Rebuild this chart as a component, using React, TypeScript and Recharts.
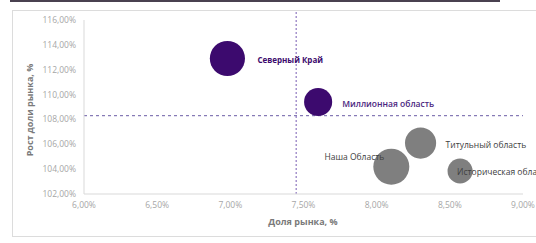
import React from 'react';
import { ScatterChart, Scatter, XAxis, YAxis, ZAxis, ReferenceLine, Cell } from 'recharts';

const regions = ['Северный Край', 'Миллионная область', 'Титульный область', 'Наша Область', 'Историческая область'];
const marketShare = [6.98, 7.6, 8.3, 8.1, 8.57];
const shareGrowth = [112.9, 109.4, 106.1, 104.2, 103.85];
const marketSize = [30.5, 19.5, 24, 32, 15.5];
const groups = ['focus', 'focus', 'other', 'other', 'other'];
const xTicks = [6, 6.5, 7, 7.5, 8, 8.5, 9];
const yTicks = [102, 104, 106, 108, 110, 112, 114, 116];
const avgShare = 7.45;
const avgGrowth = 108.3;

const data = regions.map((name, i) => ({
  name,
  x: marketShare[i],
  y: shareGrowth[i],
  z: marketSize[i],
  group: groups[i],
}));

const colors: Record<string, string> = { focus: '#3c0a6e', other: '#7f7f7f' };

const labelStyle: Record<string, { dx: number; dy: number; anchor: 'start' | 'end'; color: string; weight: number; size: number }> = {
  'Северный Край': { dx: 30, dy: 1, anchor: 'start', color: '#3c0a6e', weight: 700, size: 8 },
  'Миллионная область': { dx: 24, dy: 1, anchor: 'start', color: '#4b2680', weight: 600, size: 8.5 },
  'Титульный область': { dx: 25, dy: 1, anchor: 'start', color: '#404040', weight: 400, size: 8.5 },
  'Наша Область': { dx: -7, dy: -10, anchor: 'end', color: '#404040', weight: 400, size: 8.5 },
  'Историческая область': { dx: -3, dy: 0, anchor: 'start', color: '#404040', weight: 400, size: 8.5 },
};

const fmt = (v: number) => v.toFixed(2).replace('.', ',') + '%';

const FONT = '"Open Sans", sans-serif';

const LabelShape = (props: any) => {
  const { cx, cy, payload } = props;
  const s = labelStyle[payload.name];
  return (
    <text
      x={cx + s.dx}
      y={cy + s.dy}
      textAnchor={s.anchor}
      dominantBaseline="central"
      fontSize={s.size}
      fontFamily={FONT}
      fontWeight={s.weight}
      fill={s.color}
    >
      {payload.name}
    </text>
  );
};

export default function App() {
  return (
    <div style={{ position: 'absolute', left: 0, top: 0, width: 536, height: 243, background: '#fff', overflow: 'hidden', fontFamily: FONT }}>
      <div style={{ position: 'absolute', left: 10, top: 0, width: 490, height: 2, background: '#4a4150' }} />
      <div style={{ position: 'absolute', left: 12, top: 10, width: 540, height: 227, border: '1px solid #dcdcdc', boxSizing: 'border-box' }} />
      <div style={{ position: 'absolute', left: 0, top: 0 }}>
        <ScatterChart width={536} height={243} margin={{ top: 20, right: 13, bottom: 19, left: 24 }}>
          <XAxis
            type="number"
            dataKey="x"
            domain={[6, 9]}
            ticks={xTicks}
            tickFormatter={fmt}
            axisLine={{ stroke: '#d9d9d9' }}
            tickLine={false}
            tick={{ fontSize: 8.5, fill: '#a6a6a6', fontFamily: FONT }}
            height={30}
            interval={0}
          />
          <YAxis
            type="number"
            dataKey="y"
            domain={[102, 116]}
            ticks={yTicks}
            tickFormatter={fmt}
            axisLine={{ stroke: '#d9d9d9' }}
            tickLine={false}
            tick={{ fontSize: 8.5, fill: '#a6a6a6', fontFamily: FONT }}
            width={60}
            interval={0}
          />
          <ZAxis type="number" dataKey="z" domain={[0, 32]} range={[0, 1018]} />
          <ReferenceLine y={avgGrowth} stroke="#6b5ca5" strokeDasharray="3 3" strokeWidth={1} ifOverflow="visible" />
          <ReferenceLine
            segment={[{ x: avgShare, y: 102 }, { x: avgShare, y: 116.64 }]}
            stroke="#8f78c0"
            strokeDasharray="2 2"
            strokeWidth={1.2}
            ifOverflow="visible"
          />
          <Scatter data={data} isAnimationActive={false}>
            {data.map((d, i) => (
              <Cell key={i} fill={colors[d.group]} />
            ))}
          </Scatter>
          <Scatter data={data} isAnimationActive={false} shape={LabelShape} legendType="none" />
        </ScatterChart>
      </div>
      <div style={{ position: 'absolute', left: 0, width: 606, top: 215, textAlign: 'center', fontSize: 9, fontWeight: 700, color: '#7a7a7a' }}>
        Доля рынка, %
      </div>
      <div
        style={{
          position: 'absolute',
          left: 29,
          top: 110,
          transform: 'translate(-50%, -50%) rotate(-90deg)',
          whiteSpace: 'nowrap',
          fontSize: 9,
          fontWeight: 700,
          color: '#7a7a7a',
        }}
      >
        Рост доли рынка, %
      </div>
    </div>
  );
}
